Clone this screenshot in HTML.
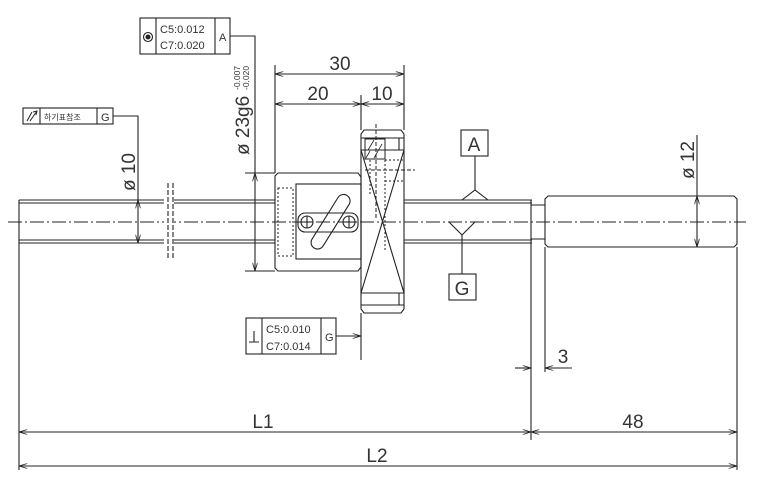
<!DOCTYPE html>
<html><head><meta charset="utf-8"><style>
html,body{margin:0;padding:0;background:#fff;}
svg{display:block;}
text{font-family:"Liberation Sans","Noto Sans CJK KR",sans-serif;fill:#333;}
</style></head><body>
<svg width="760" height="492" viewBox="0 0 760 492" xmlns="http://www.w3.org/2000/svg">
<defs>
<marker id="ar" viewBox="0 0 10 6" refX="10" refY="3" markerWidth="9" markerHeight="5" orient="auto-start-reverse" markerUnits="userSpaceOnUse">
<path d="M0,0 L10,3 L0,6" fill="none" stroke="#222" stroke-width="1"/>
</marker>
</defs>
<g stroke="#222" stroke-width="1.1" fill="none">
<line x1="8" y1="222" x2="746" y2="222" stroke-dasharray="14,3,2,3" stroke-width="1"/>
<line x1="19" y1="200" x2="275" y2="200"/><line x1="19" y1="203" x2="275" y2="203"/>
<line x1="19" y1="240" x2="275" y2="240"/><line x1="19" y1="243" x2="275" y2="243"/>
<line x1="19" y1="200" x2="19" y2="470"/>
<rect x="164" y="199" width="10" height="46" fill="#fff" stroke="none"/>
<line x1="168" y1="183" x2="168" y2="260" stroke-dasharray="5,2"/>
<line x1="173" y1="183" x2="173" y2="260" stroke-dasharray="5,2"/>
<path d="M278,173 H358 L361,177 V267 L358,271 H278 L275,268 V176 Z"/>
<rect x="296" y="184" width="65" height="75"/>
<rect x="278" y="188" width="15" height="68" stroke-dasharray="2,2" stroke-width="1"/>
<rect x="298" y="213" width="60" height="19" rx="7"/>
<rect x="300" y="215" width="62" height="13" rx="6.5" transform="rotate(-58 331 222)"/>
<circle cx="307" cy="222" r="6"/><circle cx="349" cy="222" r="6"/>
<line x1="301" y1="222" x2="313" y2="222"/><line x1="307" y1="216" x2="307" y2="228"/>
<line x1="343" y1="222" x2="355" y2="222"/><line x1="349" y1="216" x2="349" y2="228"/>
<path d="M364,130 H401 L404,134 V309 L401,313 H364 L361,309 V134 Z"/>
<line x1="361" y1="138" x2="404" y2="138"/><line x1="361" y1="150" x2="404" y2="150"/>
<line x1="361" y1="293" x2="404" y2="293"/><line x1="361" y1="305" x2="404" y2="305"/>
<line x1="399" y1="138" x2="399" y2="150"/><line x1="399" y1="293" x2="399" y2="305"/>
<line x1="361" y1="150" x2="404" y2="293"/><line x1="404" y1="150" x2="361" y2="293"/>
<rect x="365" y="139" width="20" height="20" stroke-width="1"/>
<path d="M368,150 l6,-10 M374,158 l8,-14 M366,158 l4,-7" stroke-width="0.8"/>
<line x1="376" y1="124" x2="376" y2="220" stroke-dasharray="4,2" stroke-width="1"/>
<line x1="385" y1="160" x2="385" y2="250" stroke-dasharray="2,2" stroke-width="1"/>
<line x1="370" y1="160" x2="370" y2="195" stroke-dasharray="2,2" stroke-width="1"/>
<line x1="365" y1="170" x2="415" y2="170" stroke-dasharray="4,2" stroke-width="1"/>
<line x1="385" y1="160" x2="404" y2="160" stroke-dasharray="2,2" stroke-width="1"/>
<line x1="385" y1="181" x2="404" y2="181" stroke-dasharray="2,2" stroke-width="1"/>
<line x1="404" y1="200" x2="532" y2="200"/><line x1="404" y1="203" x2="532" y2="203"/>
<line x1="404" y1="240" x2="532" y2="240"/><line x1="404" y1="243" x2="532" y2="243"/>
<line x1="531" y1="200" x2="531" y2="440"/>
<path d="M531,205 H545 M531,239 H545"/>
<path d="M548,196 H734 L737,199 V244 L734,247 H548 L545,244 V199 Z"/>
<line x1="545" y1="247" x2="545" y2="372"/>
<line x1="737" y1="247" x2="737" y2="470"/>
<rect x="461" y="130" width="27" height="26"/>
<line x1="475" y1="156" x2="475" y2="190"/>
<path d="M462,200 L475,190 L488,200"/>
<path d="M449,222 L462,235 L475,222"/>
<line x1="462" y1="235" x2="462" y2="274"/>
<rect x="449" y="274" width="27" height="26"/>
<rect x="23" y="108" width="90" height="16"/>
<line x1="40" y1="108" x2="40" y2="124"/><line x1="97" y1="108" x2="97" y2="124"/>
<polyline points="113,116 138,116 138,200"/>
<line x1="138" y1="200" x2="138" y2="243" marker-start="url(#ar)" marker-end="url(#ar)"/>
<path d="M27,121 l5,-9 M30,121 l7,-10 M33,112 l4,-1 l-1,4" stroke-width="1"/>
<rect x="140" y="18" width="90" height="36"/>
<line x1="156" y1="18" x2="156" y2="54"/><line x1="215" y1="18" x2="215" y2="54"/>
<circle cx="148" cy="37" r="4.5"/><circle cx="148" cy="37" r="2" fill="#222"/>
<polyline points="230,36 255,36 255,173"/>
<line x1="245" y1="173" x2="275" y2="173"/><line x1="245" y1="271" x2="275" y2="271"/>
<line x1="255" y1="173" x2="255" y2="271" marker-start="url(#ar)" marker-end="url(#ar)"/>
<line x1="275" y1="65" x2="275" y2="173"/>
<line x1="404" y1="65" x2="404" y2="130"/>
<line x1="361" y1="95" x2="361" y2="130"/>
<line x1="275" y1="74" x2="404" y2="74" marker-start="url(#ar)" marker-end="url(#ar)"/>
<line x1="275" y1="104" x2="361" y2="104" marker-start="url(#ar)" marker-end="url(#ar)"/>
<line x1="361" y1="104" x2="404" y2="104" marker-start="url(#ar)" marker-end="url(#ar)"/>
<rect x="246" y="318" width="90" height="36"/>
<line x1="262" y1="318" x2="262" y2="354"/><line x1="321" y1="318" x2="321" y2="354"/>
<path d="M249,342 H259 M254,342 V331"/>
<line x1="336" y1="336" x2="361" y2="336" marker-end="url(#ar)"/>
<line x1="361" y1="313" x2="361" y2="360"/>
<line x1="697" y1="135" x2="697" y2="196"/>
<line x1="697" y1="196" x2="697" y2="247" marker-start="url(#ar)" marker-end="url(#ar)"/>
<line x1="515" y1="368" x2="531" y2="368" marker-end="url(#ar)"/>
<line x1="572" y1="368" x2="545" y2="368" marker-end="url(#ar)"/>
<line x1="19" y1="432" x2="531" y2="432" marker-start="url(#ar)" marker-end="url(#ar)"/>
<line x1="531" y1="432" x2="737" y2="432" marker-start="url(#ar)" marker-end="url(#ar)"/>
<line x1="19" y1="466" x2="737" y2="466" marker-start="url(#ar)" marker-end="url(#ar)"/>
</g>
<g font-size="11">
<text x="160" y="33">C5:0.012</text>
<text x="160" y="49">C7:0.020</text>
<text x="219" y="41">A</text>
<text x="44" y="120" font-size="8">하기표참조</text>
<text x="101" y="121" font-size="11">G</text>
<text x="266" y="333">C5:0.010</text>
<text x="266" y="350">C7:0.014</text>
<text x="325" y="341">G</text>
</g>
<g font-size="19" text-anchor="middle">
<text x="474" y="151">A</text>
<text x="462" y="295">G</text>
<text x="340" y="70">30</text>
<text x="318" y="100">20</text>
<text x="382" y="100">10</text>
<text x="563" y="363">3</text>
<text x="263" y="428">L1</text>
<text x="633" y="428">48</text>
<text x="377" y="462">L2</text>
<text transform="translate(135,172) rotate(-90)">ø 10</text>
<text transform="translate(694,160) rotate(-90)">ø 12</text>
</g>
<text transform="translate(249,155) rotate(-90)" font-size="19">ø 23g6</text>
<text transform="translate(240,90) rotate(-90)" font-size="8.5">-0.007</text>
<text transform="translate(249,90) rotate(-90)" font-size="8.5">-0.020</text>
</svg>
</body></html>
